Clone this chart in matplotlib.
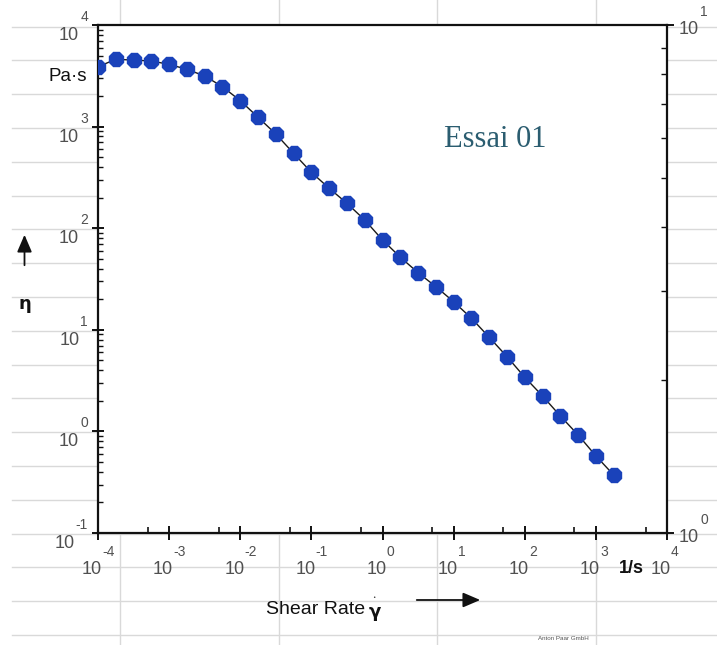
import matplotlib
matplotlib.use("Agg")
import matplotlib.pyplot as plt
from matplotlib.lines import Line2D
from matplotlib.patches import FancyArrowPatch
from matplotlib.ticker import LogLocator, NullFormatter, FixedLocator
from matplotlib.transforms import blended_transform_factory, offset_copy

# Flow curve: viscosity vs shear rate
shear_rate = [0.0001, 0.000178, 0.000316, 0.000562,
              0.001, 0.00178, 0.00316, 0.00562,
              0.01, 0.0178, 0.0316, 0.0562,
              0.1, 0.178, 0.316, 0.562,
              1.0, 1.78, 3.16, 5.62,
              10.0, 17.8, 31.6, 56.2,
              100.0, 178.0, 316.0, 562.0,
              1000.0, 1780.0]
viscosity = [3890, 4590, 4520, 4420,
             4100, 3660, 3150, 2470,
             1800, 1235, 846, 546,
             355, 247, 176, 120.5,
             76.6, 51.8, 36.5, 26.6,
             18.9, 13.0, 8.45, 5.45,
             3.41, 2.23, 1.42, 0.923,
             0.574, 0.372]

x_exponents = [-4, -3, -2, -1, 0, 1, 2, 3, 4]
y_exponents = [-1, 0, 1, 2, 3, 4]
y2_exponents = [0, 1]

W, H = 717, 645
fig = plt.figure(figsize=(W / 100, H / 100), dpi=100)
fig.patch.set_facecolor("white")

def fx(px):
    return px / W

def fy(py):
    return 1 - py / H

# ruled-paper background
grid_c = "#d9d9d9"
for k in range(19):
    py = 26.5 + 33.8 * k
    fig.add_artist(Line2D([fx(12), fx(717)], [fy(py), fy(py)], color=grid_c,
                          lw=1.0, zorder=-5, transform=fig.transFigure))
for px in [120, 278.5, 437, 595.5]:
    fig.add_artist(Line2D([fx(px), fx(px)], [0, 1], color=grid_c, lw=1.0,
                          zorder=-5, transform=fig.transFigure))

left, right, top, bottom = 98, 667, 25, 533
ax = fig.add_axes([fx(left), fy(bottom), fx(right - left), (bottom - top) / H])
ax.set_facecolor("white")
ax.set_xscale("log")
ax.set_yscale("log")
ax.set_xlim(1e-4, 1e4)
ax.set_ylim(1e-1, 1e4)

for s in ["left", "bottom", "top"]:
    ax.spines[s].set_linewidth(1.6)
    ax.spines[s].set_color("#111111")
ax.spines["right"].set_visible(False)

ax.plot(shear_rate, viscosity, color="#1a1a1a", lw=1.0, zorder=2)
ax.plot(shear_rate, viscosity, ls="none", marker="8", ms=10.5,
        mfc="#1a42ba", mec="#1a42ba", zorder=3)

# ticks
ax.xaxis.set_major_locator(FixedLocator([10.0 ** e for e in x_exponents]))
ax.xaxis.set_minor_locator(LogLocator(base=10, subs=[5.0], numticks=20))
ax.yaxis.set_major_locator(FixedLocator([10.0 ** e for e in y_exponents]))
ax.yaxis.set_minor_locator(LogLocator(base=10, subs=list(range(2, 10)), numticks=20))
for a in (ax.xaxis, ax.yaxis):
    a.set_major_formatter(NullFormatter())
    a.set_minor_formatter(NullFormatter())
ax.tick_params(axis="x", which="major", direction="inout", length=10, width=1.4,
               color="#111111", top=False)
ax.tick_params(axis="x", which="minor", direction="in", length=4.5, width=1.2,
               color="#111111", top=False)
ax.tick_params(axis="y", which="major", direction="inout", length=9, width=1.4,
               color="#111111", right=False)
ax.tick_params(axis="y", which="minor", direction="in", length=3.5, width=1.0,
               color="#111111", right=False)

ax2 = ax.twinx()
ax2.set_yscale("log")
ax2.set_ylim(1, 10)
for s in ["left", "bottom", "top"]:
    ax2.spines[s].set_visible(False)
ax2.spines["right"].set_linewidth(1.6)
ax2.spines["right"].set_color("#111111")
ax2.yaxis.set_major_locator(FixedLocator([10.0 ** e for e in y2_exponents]))
ax2.yaxis.set_minor_locator(LogLocator(base=10, subs=list(range(2, 10)), numticks=20))
ax2.yaxis.set_major_formatter(NullFormatter())
ax2.yaxis.set_minor_formatter(NullFormatter())
ax2.tick_params(axis="y", which="major", direction="out", length=5, width=1.4,
                color="#111111")
ax2.tick_params(axis="y", which="minor", direction="in", length=4, width=1.0,
                color="#111111")

lab_font = "Liberation Sans"
lab_c = "#505050"
big, small = 13, 10

# left axis labels: 10 with raised exponent
trans_l = blended_transform_factory(ax.transAxes, ax.transData)
for e in y_exponents:
    t_exp = ax.text(0, 10.0 ** e, str(e), ha="right", va="center",
                    fontsize=small, family=lab_font, color=lab_c,
                    transform=offset_copy(trans_l, fig=fig, x=-10, y=8, units="dots"))
    ax.annotate("10", xy=(0, 0), xycoords=t_exp, xytext=(-1, -3),
                textcoords="offset pixels", ha="right", va="top",
                fontsize=big, family=lab_font, color=lab_c)

# bottom axis labels
trans_b = blended_transform_factory(ax.transData, ax.transAxes)
for e in x_exponents:
    t_ten = ax.text(10.0 ** e, 0, "10", ha="center", va="top",
                    fontsize=big, family=lab_font, color=lab_c,
                    transform=offset_copy(trans_b, fig=fig, x=-6, y=-28, units="dots"))
    ax.annotate(str(e), xy=(1, 1), xycoords=t_ten, xytext=(0, 2),
                textcoords="offset pixels", ha="left", va="bottom",
                fontsize=small, family=lab_font, color=lab_c)

# right axis labels
trans_r = blended_transform_factory(ax2.transAxes, ax2.transData)
for e in y2_exponents:
    t_ten = ax2.text(1, 10.0 ** e, "10", ha="left", va="center",
                     fontsize=big, family=lab_font, color=lab_c,
                     transform=offset_copy(trans_r, fig=fig, x=12, y=-4, units="dots"))
    ax2.annotate(str(e), xy=(1, 1), xycoords=t_ten, xytext=(1, 2),
                 textcoords="offset pixels", ha="left", va="bottom",
                 fontsize=small, family=lab_font, color=lab_c)

# units and axis names
fig.text(fx(68), fy(76.5), "Pa·s", ha="center", va="center", fontsize=13.5,
         family=lab_font, color="#111111")
fig.text(fx(631), fy(568.5), "1/s", ha="center", va="center", fontsize=13,
         family=lab_font, weight="bold", color="#111111")
fig.text(fx(25), fy(304), "η", ha="center", va="center", fontsize=13,
         family="DejaVu Sans", weight="bold", color="#111111")
fig.add_artist(FancyArrowPatch(
    (fx(24.5), fy(268)), (fx(24.5), fy(232)), transform=fig.transFigure,
    arrowstyle="-|>,head_length=7,head_width=3", color="#111111", lw=1.3,
    mutation_scale=1.5))
fig.text(fx(266), fy(609), "Shear Rate", ha="left", va="center", fontsize=14,
         family=lab_font, color="#111111")
fig.text(fx(375), fy(612), "γ", ha="center", va="center", fontsize=13,
         family="DejaVu Sans", weight="bold", color="#111111")
fig.text(fx(374), fy(598), "•", ha="center", va="center", fontsize=4,
         family="DejaVu Sans", color="#333333")
fig.add_artist(FancyArrowPatch(
    (fx(414), fy(600)), (fx(483), fy(600)), transform=fig.transFigure,
    arrowstyle="-|>,head_length=7,head_width=3", color="#111111", lw=1.3,
    mutation_scale=1.5))
fig.text(fx(563), fy(638), "Anton Paar GmbH", ha="center", va="center",
         fontsize=4.5, family=lab_font, color="#555555")

ax.text(0.698, 0.774, "Essai 01", transform=ax.transAxes, ha="center",
        va="center", fontsize=22, family="Liberation Serif", color="#2b5d70")

fig.savefig("out.png", dpi=100, facecolor="white")
